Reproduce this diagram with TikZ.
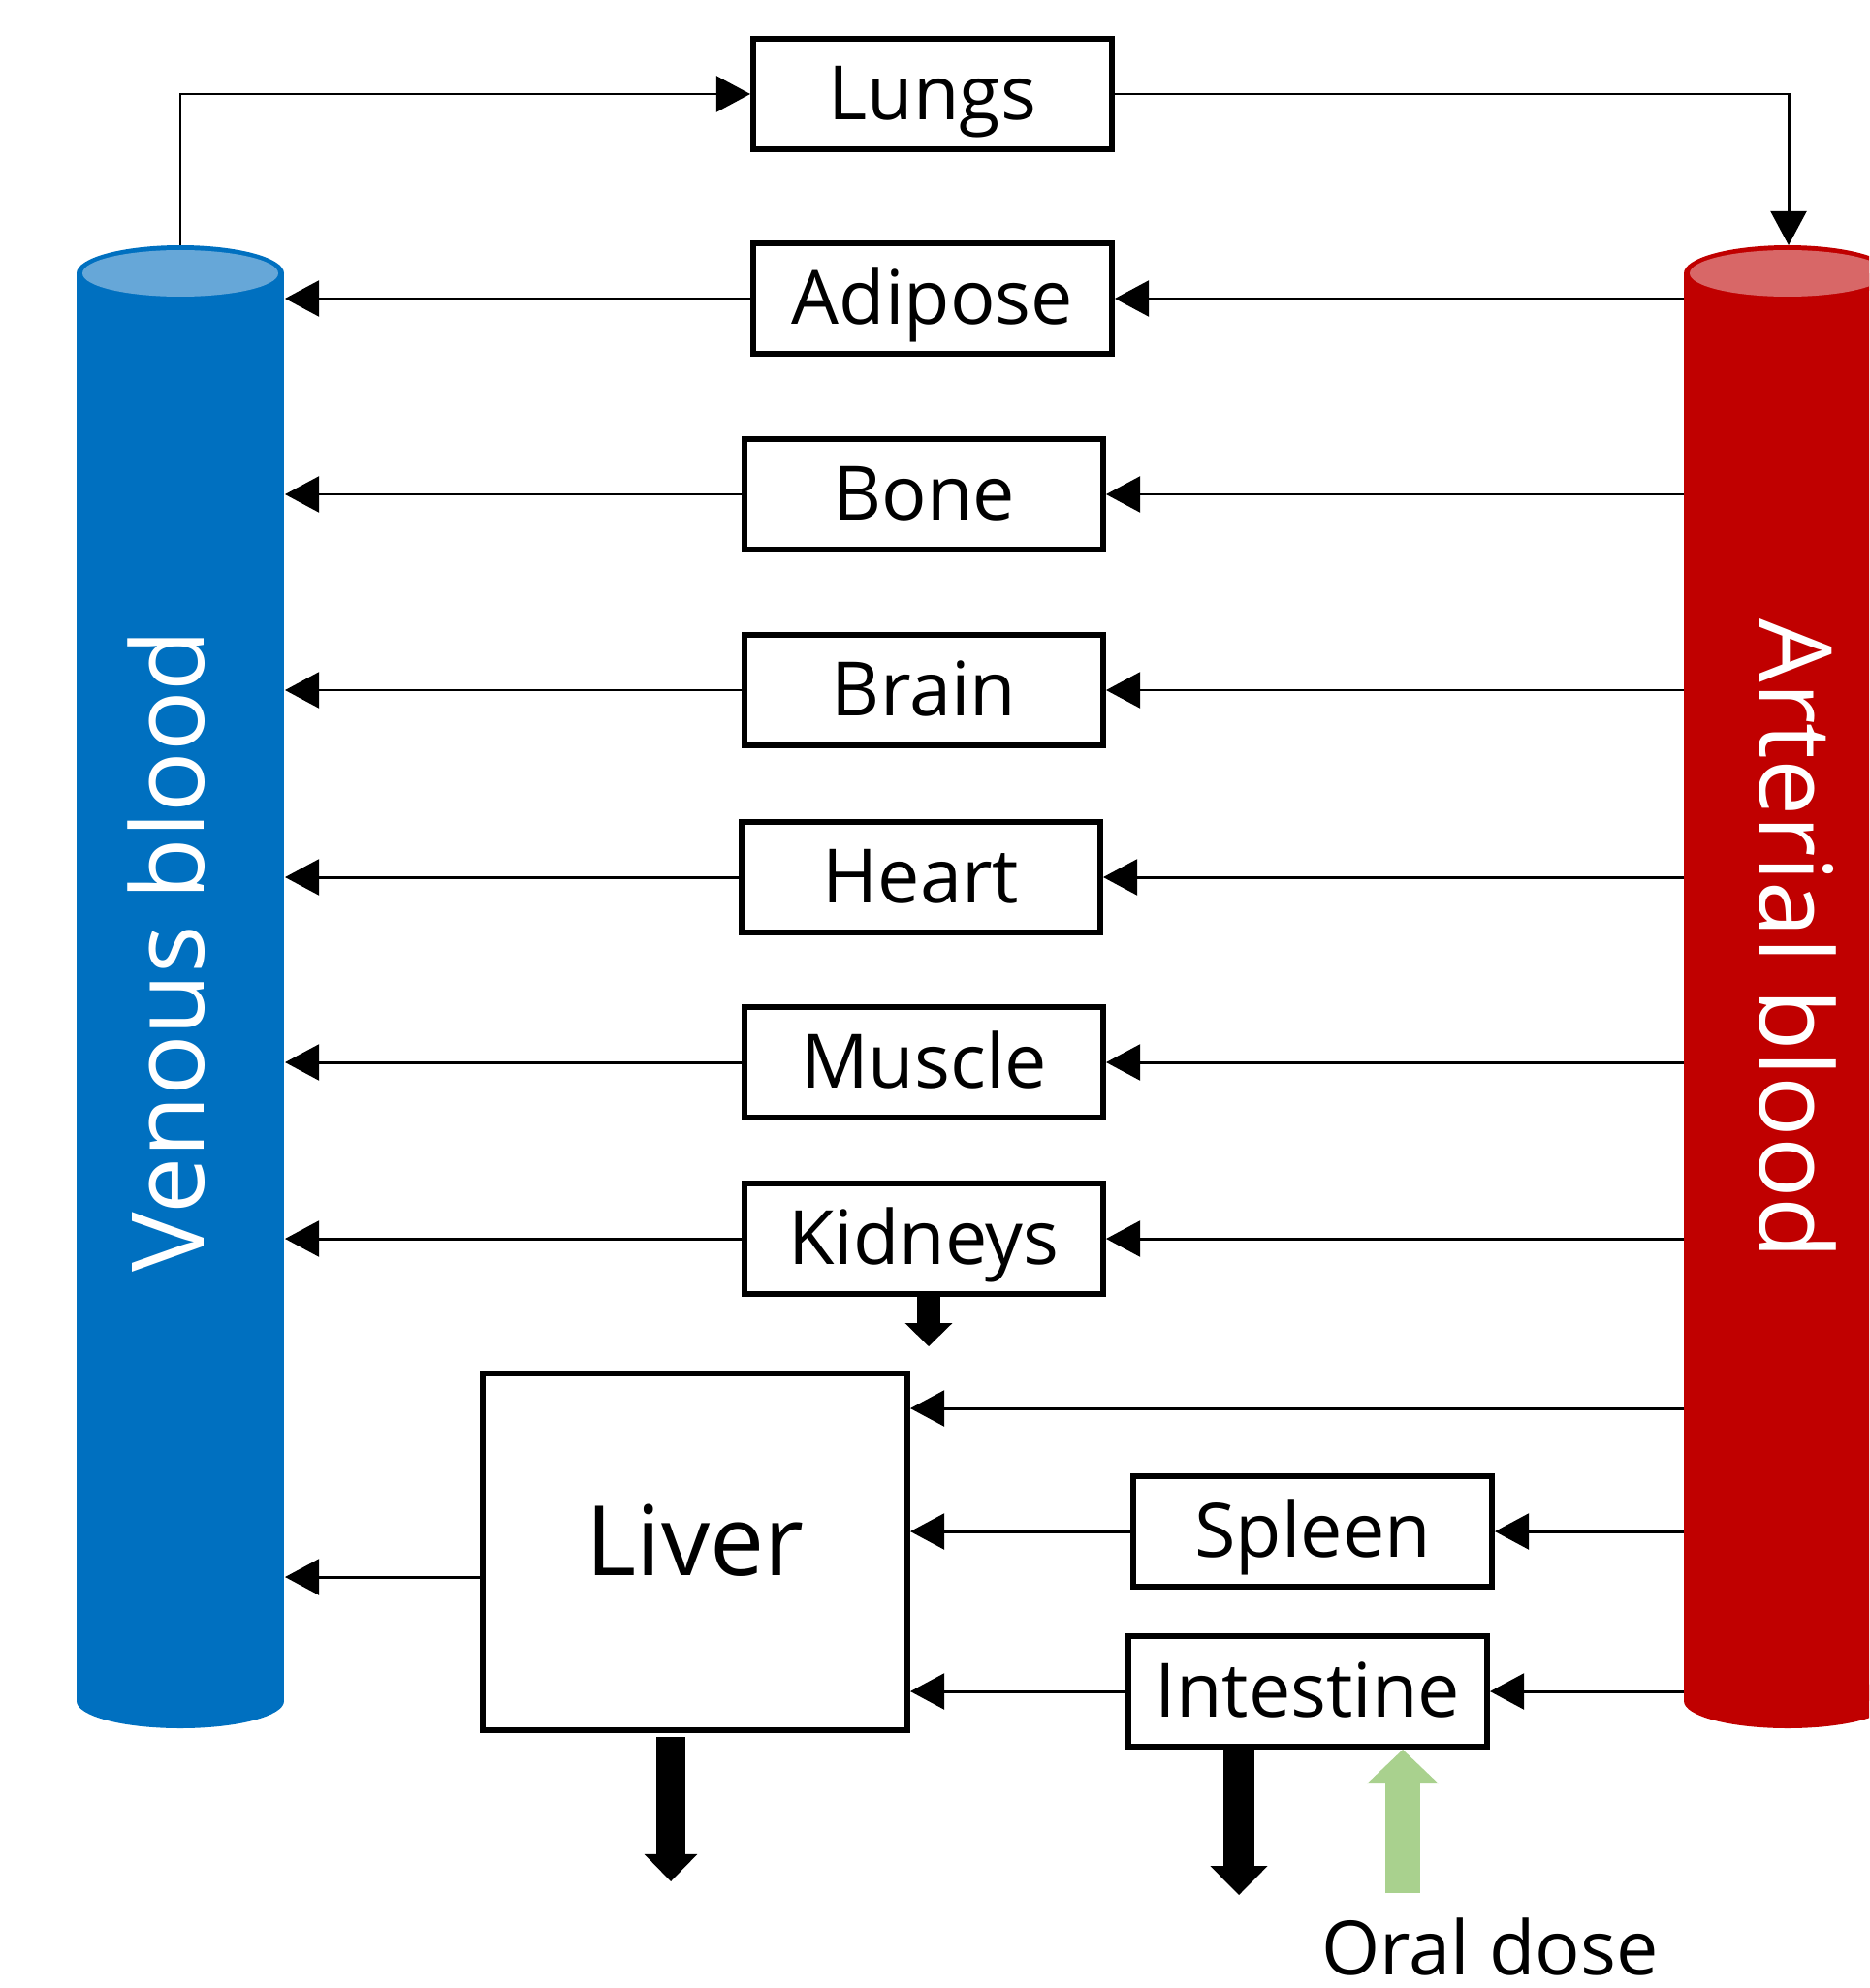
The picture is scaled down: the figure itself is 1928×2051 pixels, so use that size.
\documentclass[tikz,border=0pt]{standalone}
\usepackage{fontspec}
\setmainfont{Open Sans}
\usetikzlibrary{arrows.meta}
\definecolor{venblue}{HTML}{0070C0}
\definecolor{venlight}{HTML}{66A7D8}
\definecolor{artred}{HTML}{C00000}
\definecolor{artlight}{HTML}{D86767}
\definecolor{dosegreen}{HTML}{A9D18E}

\begin{document}
\begin{tikzpicture}[x=0.1mm, y=-0.1mm,
  organ/.style={draw, line width=1.7pt, minimum width=3.7cm, minimum height=1.14cm,
    inner sep=0pt, text height=17pt, text depth=2.2pt, font=\fontsize{22pt}{26pt}\selectfont},
  flow/.style={line width=0.85pt, -{Triangle[length=10pt, width=10.5pt]}},
  drain/.style={line width=8.5pt, -{Triangle[length=8pt, width=15.6pt, line width=0pt]}},
  dose/.style={dosegreen, line width=10.5pt, -{Triangle[length=10pt, width=21pt, line width=0pt]}},
  blood/.style={text=white, inner sep=0pt, font=\fontsize{29.5pt}{34pt}\selectfont}]
  \useasboundingbox (0,0) rectangle (1928,2051);
  \clip (0,0) rectangle (1928,2051);

  % venous blood
  \fill[venblue] (79,282) rectangle (293,1755);
  \fill[venblue] (186,1755) ellipse [x radius=107, y radius=28];
  \fill[venblue] (186,282) ellipse [x radius=107, y radius=29];
  \fill[venlight] (186,282) ellipse [x radius=101, y radius=24];
  \node[blood, rotate=90] (venous) at (172,981) {Venous blood};

  % arterial blood
  \fill[artred] (1737,282) rectangle (1951,1755);
  \fill[artred] (1844,1755) ellipse [x radius=107, y radius=28];
  \fill[artred] (1844,282) ellipse [x radius=107, y radius=29];
  \fill[artlight] (1844,282) ellipse [x radius=101, y radius=24];
  \node[blood, rotate=-90] (arterial) at (1854,969) {Arterial blood};

  % organs
  \node[organ] (lungs) at (962,97) {Lungs};
  \node[organ] (adipose) at (962,308) {Adipose};
  \node[organ] (bone) at (953,510) {Bone};
  \node[organ] (brain) at (953,712) {Brain};
  \node[organ] (heart) at (950,905) {Heart};
  \node[organ] (muscle) at (953,1096) {Muscle};
  \node[organ] (kidneys) at (953,1278) {Kidneys};
  \node[organ, minimum width=4.38cm, minimum height=3.68cm, text height=22pt, text depth=8pt,
    font=\fontsize{28.5pt}{32pt}\selectfont] (liver) at (717,1601) {Liver};
  \node[organ] (spleen) at (1354,1580) {Spleen};
  \node[organ] (intestine) at (1349,1745) {Intestine};
  \node[inner sep=0pt, font=\fontsize{22pt}{26pt}\selectfont] (oral) at (1537,2008) {Oral dose};

  \coordinate (ven) at (294,0);
  \coordinate (art) at (1737,0);
  \coordinate (ventop) at (186,253);
  \coordinate (arttop) at (1845,253);
  \coordinate (hepatic) at (1737,1453);
  \coordinate (dosein) at (1447,1953);

  % circulation
  \draw[flow] (ventop) |- (lungs.west);
  \draw[flow] (lungs.east) -| (arttop);
  \draw[flow] (adipose.east -| art) -- (adipose.east);
  \draw[flow] (adipose.west) -- (adipose.west -| ven);
  \draw[flow] (bone.east -| art) -- (bone.east);
  \draw[flow] (bone.west) -- (bone.west -| ven);
  \draw[flow] (brain.east -| art) -- (brain.east);
  \draw[flow] (brain.west) -- (brain.west -| ven);
  \draw[flow] (heart.east -| art) -- (heart.east);
  \draw[flow] (heart.west) -- (heart.west -| ven);
  \draw[flow] (muscle.east -| art) -- (muscle.east);
  \draw[flow] (muscle.west) -- (muscle.west -| ven);
  \draw[flow] (kidneys.east -| art) -- (kidneys.east);
  \draw[flow] (kidneys.west) -- (kidneys.west -| ven);
  \draw[flow] (hepatic) -- (hepatic -| liver.east);
  \draw[flow] (spleen.east -| art) -- (spleen.east);
  \draw[flow] (spleen.west) -- (spleen.west -| liver.east);
  \draw[flow] (intestine.east -| art) -- (intestine.east);
  \draw[flow] (intestine.west) -- (intestine.west -| liver.east);
  \draw[flow] ([yshift=-2.6mm]liver.west) -- ([yshift=-2.6mm]liver.west -| ven);

  % elimination and dosing
  \draw[drain, line width=7.1pt, -{Triangle[length=6.8pt, width=13.9pt, line width=0pt]}]
    ([xshift=0.5mm]kidneys.south) -- ++(0,51);
  \draw[drain] ([shift={(-25,4)}]liver.south) -- ++(0,149);
  \draw[drain, line width=9.1pt, -{Triangle[length=8.5pt, width=16.8pt, line width=0pt]}]
    ([xshift=-7.1mm]intestine.south) -- ++(0,150);
  \draw[dose] (dosein) -- (dosein |- intestine.south);
\end{tikzpicture}
\end{document}
